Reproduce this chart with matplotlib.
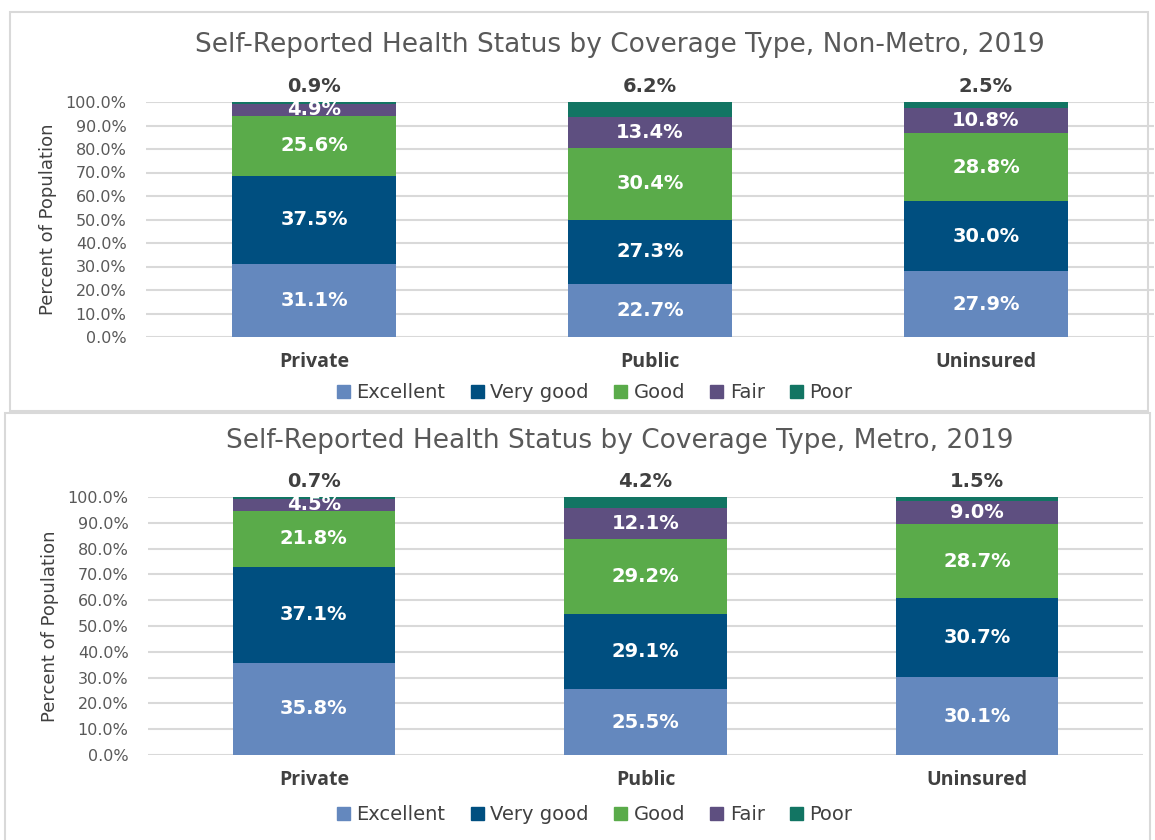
import numpy as np
import matplotlib
matplotlib.use("Agg")
import matplotlib.pyplot as plt
from matplotlib.patches import Rectangle, Patch

categories = ["Private", "Public", "Uninsured"]
statuses = ["Excellent", "Very good", "Good", "Fair", "Poor"]
colors = ["#6488BE", "#004F80", "#5AAB4A", "#5E4F80", "#127563"]

# Non-Metro, 2019 (percent), one list per status
nm_excellent = [31.1, 22.7, 27.9]
nm_verygood = [37.5, 27.3, 30.0]
nm_good = [25.6, 30.4, 28.8]
nm_fair = [4.9, 13.4, 10.8]
nm_poor = [0.9, 6.2, 2.5]

# Metro, 2019 (percent)
m_excellent = [35.8, 25.5, 30.1]
m_verygood = [37.1, 29.1, 30.7]
m_good = [21.8, 29.2, 28.7]
m_fair = [4.5, 12.1, 9.0]
m_poor = [0.7, 4.2, 1.5]

yticks = np.arange(0, 101, 10)

fig = plt.figure(figsize=(11.55, 8.4), dpi=100)

# panel borders
fig.add_artist(Rectangle((10/1155, 1-411/840), 1138/1155, 399/840, transform=fig.transFigure,
                         fill=False, edgecolor="#D9D9D9", lw=1.5))
fig.add_artist(Rectangle((5/1155, -0.01), 1145/1155, (840-413)/840 + 0.01, transform=fig.transFigure,
                         fill=False, edgecolor="#D9D9D9", lw=1.5))


def draw_panel(rect, title, title_y, series, legend_y):
    ax = fig.add_axes(rect)
    x = np.arange(len(categories))
    bottom = np.zeros(len(categories))
    for i, (name, vals) in enumerate(zip(statuses, series)):
        vals = np.array(vals)
        ax.bar(x, vals, 0.49, bottom=bottom, color=colors[i], label=name, zorder=3)
        for xi, b, v in zip(x, bottom, vals):
            if name == "Poor":
                ax.text(xi, 102.5, f"{v:.1f}%", ha="center", va="bottom", fontsize=14,
                        fontweight="bold", color="#404040", family="DejaVu Sans")
            else:
                ax.text(xi, b + v / 2, f"{v:.1f}%", ha="center", va="center", fontsize=14,
                        fontweight="bold", color="white", family="DejaVu Sans", zorder=4)
        bottom = bottom + vals
    ax.set_xlim(-0.5, len(categories) - 0.5)
    ax.set_ylim(0, 100)
    ax.set_yticks(yticks)
    ax.set_yticklabels([f"{t:.1f}%" for t in yticks], fontsize=11.5, color="#595959",
                       family="DejaVu Sans")
    ax.yaxis.grid(True, color="#D9D9D9", lw=1.5, zorder=0)
    ax.tick_params(axis="x", length=0, pad=11)
    ax.tick_params(axis="y", length=0, pad=14)
    ax.set_xticks(x)
    ax.set_xticklabels(categories, fontsize=14, fontweight="bold", color="#404040",
                       family="Open Sans")
    for s in ax.spines.values():
        s.set_visible(False)
    ax.set_ylabel("Percent of Population", fontsize=13, color="#404040",
                  family=["Liberation Sans Narrow", "DejaVu Sans"], labelpad=6)
    fig.text(0.537, title_y, title, ha="center", va="center", fontsize=19, color="#595959",
             family="DejaVu Sans")
    handles = [Patch(color=c, label=n) for c, n in zip(colors, statuses)]
    fig.legend(handles=handles, loc="center", bbox_to_anchor=(0.515, legend_y), ncol=5,
               frameon=False, handlelength=0.65, handleheight=0.65,
               handletextpad=0.35, columnspacing=1.3, labelcolor="#404040",
               prop={"family": "DejaVu Sans", "size": 14})
    return ax


draw_panel([146/1155, 1-337/840, 1008/1155, 235/840],
           "Self-Reported Health Status by Coverage Type, Non-Metro, 2019", 1-45/840,
           [nm_excellent, nm_verygood, nm_good, nm_fair, nm_poor], 1-393/840)
draw_panel([148/1155, 1-755/840, 995/1155, 258/840],
           "Self-Reported Health Status by Coverage Type, Metro, 2019", 1-441/840,
           [m_excellent, m_verygood, m_good, m_fair, m_poor], 1-815/840)

fig.savefig("out.png", dpi=100)
